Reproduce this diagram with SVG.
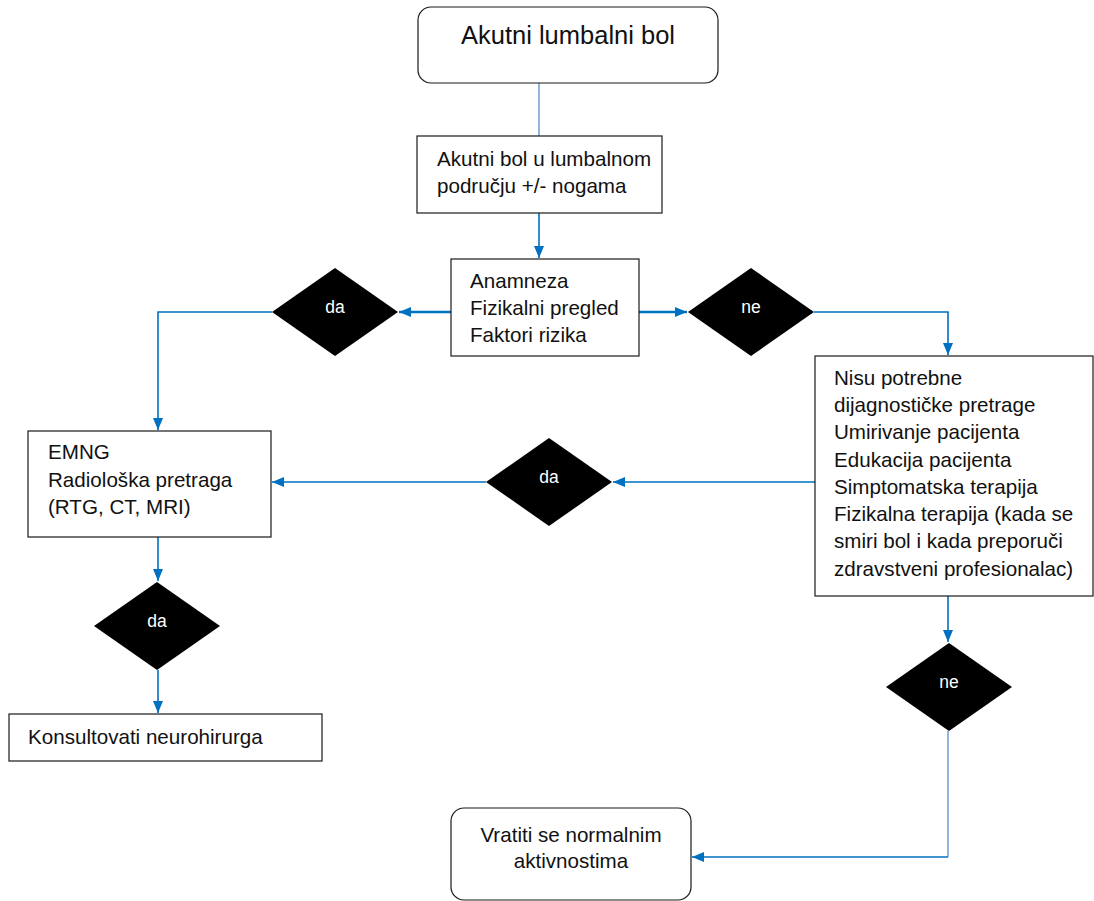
<svg xmlns="http://www.w3.org/2000/svg" width="1094" height="901" viewBox="0 0 1094 901">
<style>
.box{fill:#fff;stroke:#1a1a1a;stroke-width:1.2}
.dia{fill:#000;stroke:none}
.t{font-family:"Liberation Sans",Arial,sans-serif;font-size:20.6px;fill:#111}
.tt{font-family:"Liberation Sans",Arial,sans-serif;font-size:25.5px;fill:#111}
.dl{font-family:"Liberation Sans",Arial,sans-serif;font-size:17.5px;fill:#fff;text-anchor:middle}
.c{fill:none;stroke:#0070c0;stroke-width:1.6}
.thin{fill:none;stroke:#4a84c8;stroke-width:1.2}
.thick{fill:none;stroke:#0070c0;stroke-width:2.4}
</style>
<defs>
<marker id="ah" markerUnits="userSpaceOnUse" markerWidth="13" markerHeight="11" refX="12" refY="5" orient="auto">
<path d="M0,0 L12,5 L0,10 z" fill="#0070c0"/>
</marker>
</defs>
<g id="connectors">
<path class="thin" d="M539,83 L539,136"/>
<path class="c" d="M539,213 L539,258" marker-end="url(#ah)"/>
<path class="thick" d="M451,312 L399,312" marker-end="url(#ah)"/>
<path class="thick" d="M639,312 L687,312" marker-end="url(#ah)"/>
<path class="c" d="M272,312 L158,312 L158,430" marker-end="url(#ah)"/>
<path class="c" d="M814,312 L948,312 L948,355" marker-end="url(#ah)"/>
<path class="c" d="M815,482 L613,482" marker-end="url(#ah)"/>
<path class="c" d="M486,482 L272,482" marker-end="url(#ah)"/>
<path class="c" d="M158,537 L158,581" marker-end="url(#ah)"/>
<path class="c" d="M158,670 L158,713" marker-end="url(#ah)"/>
<path class="c" d="M948,596 L948,642" marker-end="url(#ah)"/>
<path class="thin" d="M948,731 L948,857"/>
<path class="c" d="M948,857 L692,857" marker-end="url(#ah)"/>
</g>
<g id="start">
<rect class="box" x="418" y="7" width="300" height="76" rx="13"/>
<text class="tt" x="568" y="44" text-anchor="middle">Akutni lumbalni bol</text>
</g>
<g id="symptom">
<rect class="box" x="417" y="136" width="245" height="77"/>
<text class="t" x="437" y="166">Akutni bol u lumbalnom</text>
<text class="t" x="437" y="193">području +/- nogama</text>
</g>
<g id="exam">
<rect class="box" x="451" y="259" width="188" height="97"/>
<text class="t" x="470" y="288">Anamneza</text>
<text class="t" x="470" y="315">Fizikalni pregled</text>
<text class="t" x="470" y="342">Faktori rizika</text>
</g>
<g id="dec-da1">
<polygon class="dia" points="335,268 398,312 335,356 272,312"/>
<text class="dl" x="335" y="313">da</text>
</g>
<g id="dec-ne1">
<polygon class="dia" points="751,268 814,312 751,356 688,312"/>
<text class="dl" x="751" y="313">ne</text>
</g>
<g id="conservative">
<rect class="box" x="815" y="356" width="278" height="240"/>
<text class="t" x="834" y="385">Nisu potrebne</text>
<text class="t" x="834" y="412">dijagnostičke pretrage</text>
<text class="t" x="834" y="439">Umirivanje pacijenta</text>
<text class="t" x="834" y="467">Edukacija pacijenta</text>
<text class="t" x="834" y="494">Simptomatska terapija</text>
<text class="t" x="834" y="521">Fizikalna terapija (kada se</text>
<text class="t" x="834" y="548">smiri bol i kada preporuči</text>
<text class="t" x="834" y="576">zdravstveni profesionalac)</text>
</g>
<g id="dec-da2">
<polygon class="dia" points="549,438 612,482 549,526 486,482"/>
<text class="dl" x="549" y="483">da</text>
</g>
<g id="imaging">
<rect class="box" x="28" y="431" width="243" height="106"/>
<text class="t" x="48" y="459">EMNG</text>
<text class="t" x="48" y="487">Radiološka pretraga</text>
<text class="t" x="48" y="514">(RTG, CT, MRI)</text>
</g>
<g id="dec-da3">
<polygon class="dia" points="157,582 220,626 157,670 94,626"/>
<text class="dl" x="157" y="627">da</text>
</g>
<g id="neuro">
<rect class="box" x="9" y="714" width="313" height="47"/>
<text class="t" x="28" y="744">Konsultovati neurohirurga</text>
</g>
<g id="dec-ne2">
<polygon class="dia" points="949,643 1012,687 949,731 886,687"/>
<text class="dl" x="949" y="688">ne</text>
</g>
<g id="return">
<rect class="box" x="451" y="808" width="240" height="92" rx="13"/>
<text class="t" x="571" y="842" text-anchor="middle">Vratiti se normalnim</text>
<text class="t" x="571" y="868" text-anchor="middle">aktivnostima</text>
</g>
</svg>
